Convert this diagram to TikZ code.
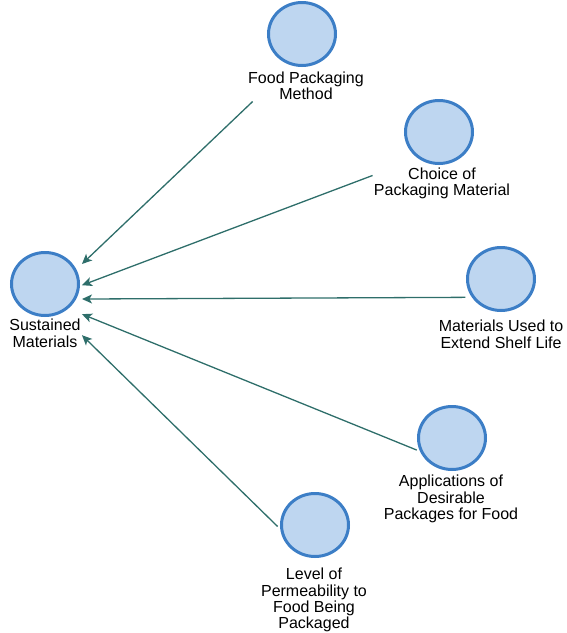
\documentclass[tikz,border=0pt]{standalone}
\usepackage{fontspec}
\setmainfont{Liberation Sans}
\usetikzlibrary{arrows.meta,shapes.geometric,fit}
\definecolor{nodefill}{RGB}{190,214,240}
\definecolor{nodeline}{RGB}{60,126,198}
\definecolor{arrowcol}{RGB}{46,110,106}
\begin{document}
\begin{tikzpicture}[x=1pt,y=-1pt,
  bubble/.style={ellipse, draw=nodeline, fill=nodefill, line width=3pt,
    minimum width=67pt, minimum height=63pt, inner sep=0pt},
  lbl/.style={anchor=north, align=center, inner sep=0pt,
    font=\fontsize{16}{16.2}\selectfont},
  grp/.style={inner sep=1pt},
  arr/.style={draw=arrowcol, line width=1.3pt,
    -{Stealth[length=10pt,width=9pt,inset=2.5pt]}}]
\useasboundingbox (0,0) rectangle (566,633);
% circles
\node[bubble] (S) at (45,284) {};
\node[bubble] (F) at (302,34) {};
\node[bubble] (C) at (439,132) {};
\node[bubble] (M) at (501,279) {};
\node[bubble] (A) at (452,438) {};
\node[bubble] (L) at (315,525) {};
% labels
\node[lbl] (Sl) at (45,319) {Sustained\\Materials};
\node[lbl] (Fl) at (306,72) {Food Packaging\\Method};
\node[lbl] (Cl) at (442,168) {Choice of\\Packaging Material};
\node[lbl] (Ml) at (501,320) {Materials Used to\\Extend Shelf Life};
\node[lbl] (Al) at (451,475) {Applications of\\Desirable\\Packages for Food};
\node[lbl] (Ll) at (314,568) {Level of\\Permeability to\\Food Being\\Packaged};
% groups
\node[grp, fit=(S)(Sl)] (Sb) {};
\node[grp, fit=(F)(Fl)] (Fb) {};
\node[grp, fit=(C)(Cl)] (Cb) {};
\node[grp, fit=(M)(Ml)] (Mb) {};
\node[grp, fit=(A)(Al)] (Ab) {};
\node[grp, fit=(L)(Ll)] (Lb) {};
% connectors
\draw[arr] (Fb) -- (Sb);
\draw[arr] (Cb) -- (Sb);
\draw[arr, shorten <=-28pt] (Mb) -- (Sb);
\draw[arr, shorten <=-37pt] (Ab) -- (Sb);
\draw[arr, shorten <=-25pt] (Lb) -- (Sb);
\end{tikzpicture}
\end{document}
